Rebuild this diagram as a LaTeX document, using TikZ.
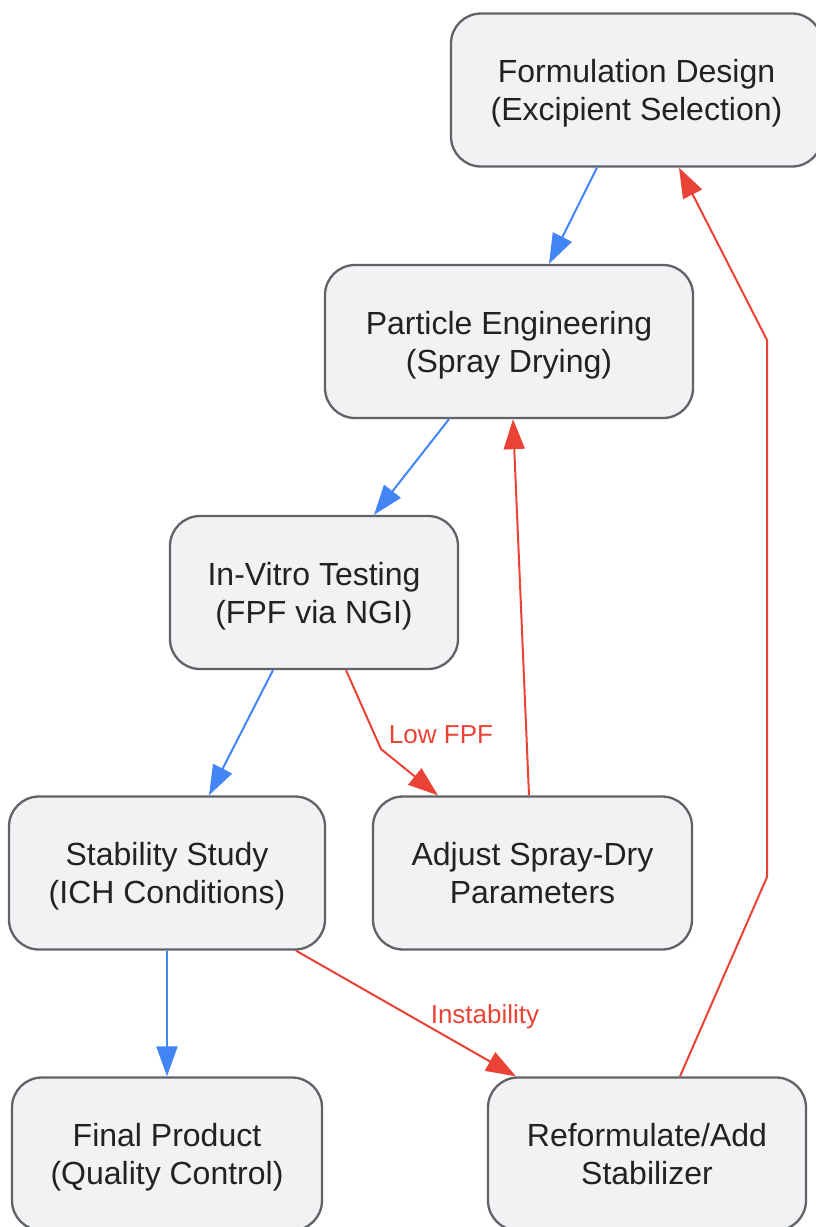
\documentclass[tikz,border=0pt]{standalone}
\usepackage{fontspec}
\setmainfont{Liberation Sans}
\usetikzlibrary{arrows.meta}
\definecolor{boxfill}{HTML}{F1F2F4}
\definecolor{boxline}{HTML}{5F6368}
\definecolor{txt}{HTML}{222222}
\definecolor{flowblue}{HTML}{4285F4}
\definecolor{flowred}{HTML}{EA4335}
\newcommand{\twolines}[2]{\raisebox{-4pt}[\height][\depth]{\begin{tabular}{@{}c@{}}#1\\#2\end{tabular}}}
\tikzset{
  box/.style={draw=boxline, fill=boxfill, line width=2.3pt, rounded corners=30pt,
    minimum height=153pt, align=center, text=txt, inner sep=0pt,
    font=\fontsize{32}{38}\selectfont},
  okflow/.style={draw=flowblue, line width=2pt, -{Triangle[length=30pt,width=21pt]}},
  badflow/.style={draw=flowred, line width=2pt, -{Triangle[length=30pt,width=21pt]}},
  elabel/.style={text=flowred, font=\fontsize{26}{30}\selectfont, inner sep=0pt}
}
\begin{document}
\begin{tikzpicture}[x=1pt,y=-1pt]
\useasboundingbox (0,0) rectangle (816,1227);
\node[box, minimum width=371pt] (f) at (636.5,90) {\twolines{Formulation Design}{(Excipient Selection)}};
\node[box, minimum width=368pt] (p) at (509,341.5) {\twolines{Particle Engineering}{(Spray Drying)}};
\node[box, minimum width=288pt] (iv) at (314,592.5) {\twolines{In-Vitro Testing}{(FPF via NGI)}};
\node[box, minimum width=316pt] (s) at (167,873) {\twolines{Stability Study}{(ICH Conditions)}};
\node[box, minimum width=319pt] (a) at (532.5,873) {\twolines{Adjust Spray-Dry}{Parameters}};
\node[box, minimum width=310pt] (fp) at (167,1154) {\twolines{Final Product}{(Quality Control)}};
\node[box, minimum width=318pt] (r) at (647,1154) {\twolines{Reformulate/Add}{Stabilizer}};

\coordinate (lowbend) at (381,749);
\coordinate (rbend1) at (767,877);
\coordinate (rbend2) at (767,340);

\draw[okflow] ([xshift=-39.5pt]f.south) -- ([xshift=40pt]p.north);
\draw[okflow] ([xshift=-60pt]p.south) -- ([xshift=60pt]iv.north);
\draw[okflow] ([xshift=-41pt]iv.south) -- ([xshift=42pt]s.north);
\draw[badflow] ([xshift=32pt]iv.south) -- (lowbend) -- ([xshift=-94.5pt]a.north);
\node[elabel] (lowlbl) at (441,735) {Low FPF};
\draw[badflow] ([xshift=-3.5pt]a.north) -- ([xshift=4pt]p.south);
\draw[okflow] (s.south) -- (fp.north);
\draw[badflow] ([xshift=129pt]s.south) -- ([xshift=-131pt]r.north);
\node[elabel] (instlbl) at (485,1017) {Instability};
\draw[badflow] ([xshift=33pt]r.north) -- (rbend1) -- (rbend2) -- ([xshift=42.5pt]f.south);
\end{tikzpicture}
\end{document}
